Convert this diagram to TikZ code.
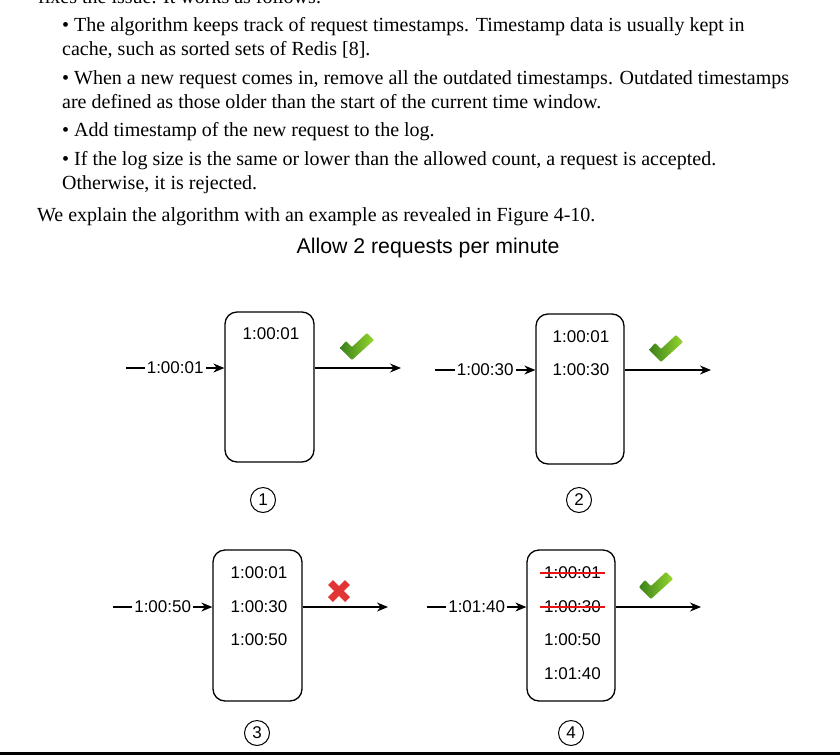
\documentclass[tikz,border=0pt]{standalone}
\usepackage{fontspec}
\setmainfont{Liberation Serif}
\newfontfamily\arialf{Liberation Sans}
\usetikzlibrary{arrows.meta}
\definecolor{xred}{RGB}{226,52,52}
\definecolor{ckdark}{RGB}{58,128,28}
\definecolor{cklight}{RGB}{150,215,45}
\definecolor{strikered}{RGB}{232,20,20}
\tikzset{
 body/.style={anchor=base west, inner sep=0pt, font=\fontsize{20}{24}\selectfont},
 logbox/.style={draw, line width=1.3pt, rounded corners=12pt, minimum width=89pt, minimum height=150pt, inner sep=0pt},
 stamp/.style={font=\arialf\fontsize{17}{20}\selectfont, inner sep=1pt},
 inlabel/.style={font=\arialf\fontsize{17}{20}\selectfont, fill=white, inner sep=2pt},
 flow/.style={line width=1.2pt, -{Stealth[length=11pt,width=9pt]}},
 stepnum/.style={draw, circle, line width=1pt, minimum size=25pt, inner sep=0pt, font=\arialf\fontsize{17}{17}\selectfont},
 strikeout/.style={draw=strikered, line width=1.6pt, shorten <=-3pt, shorten >=-3pt},
 okmark/.pic={\shade[left color=ckdark, right color=cklight, rounded corners=1pt] (-17,1) -- (-11,-6) -- (-5,0) -- (10,-14) -- (17,-7) -- (-5,13) -- cycle;},
 nomark/.pic={\draw[xred, line width=7pt] (-8.5,-8.5) -- (8.5,8.5) (-8.5,8.5) -- (8.5,-8.5);},
}
\begin{document}
\begin{tikzpicture}[x=1pt,y=-1pt]
\useasboundingbox (0,0) rectangle (840,755);
\clip (0,0) rectangle (840,755);
\fill[white] (0,0) rectangle (840,755);
% text
\node[body] (p0) at (38,3) {fixes the issue. It works as follows:};
\node[body] (p1) at (62,31) {• The algorithm keeps track of request timestamps. Timestamp data is usually kept in};
\node[body] (p2) at (62,55) {cache, such as sorted sets of Redis [8].};
\node[body] (p3) at (62,84) {• When a new request comes in, remove all the outdated timestamps. Outdated timestamps};
\node[body] (p4) at (62,108) {are defined as those older than the start of the current time window.};
\node[body] (p5) at (62,136) {• Add timestamp of the new request to the log.};
\node[body] (p6) at (62,165) {• If the log size is the same or lower than the allowed count, a request is accepted.};
\node[body] (p7) at (62,189) {Otherwise, it is rejected.};
\node[body] (p8) at (37,221) {We explain the algorithm with an example as revealed in Figure 4-10.};
\node[font=\arialf\fontsize{21.3}{25}\selectfont, inner sep=0pt] (title) at (428,248) {Allow 2 requests per minute};
% boxes
\node[logbox] (b1) at (269.5,387) {};
\node[logbox, minimum width=88pt] (b2) at (580,389) {};
\node[logbox, minimum height=151pt] (b3) at (257.5,625.5) {};
\node[logbox, minimum width=88pt, minimum height=151pt] (b4) at (571,625.5) {};
% stamps
\node[stamp] (t11) at (271,334) {1:00:01};
\node[stamp] (t21) at (581,337) {1:00:01};
\node[stamp] (t22) at (581,370) {1:00:30};
\node[stamp] (t31) at (259,573) {1:00:01};
\node[stamp] (t32) at (259,607) {1:00:30};
\node[stamp] (t33) at (259,640) {1:00:50};
\node[stamp] (t41) at (572.5,573) {1:00:01};
\node[stamp] (t42) at (572.5,607) {1:00:30};
\node[stamp] (t43) at (572.5,640) {1:00:50};
\node[stamp] (t44) at (572.5,674) {1:01:40};
\draw[strikeout] (t41.west) -- (t41.east);
\draw[strikeout] (t42.west) -- (t42.east);
% flows
\coordinate (s1) at (126,368); \coordinate (e1) at (401,368);
\coordinate (s2) at (435,370); \coordinate (e2) at (711,370);
\coordinate (s3) at (113,607); \coordinate (e3) at (388,607);
\coordinate (s4) at (427,607); \coordinate (e4) at (701,607);
\draw[flow] (s1) -- node[inlabel] (l1) {1:00:01} (s1 -| b1.west);
\draw[flow] (s2) -- node[inlabel] (l2) {1:00:30} (s2 -| b2.west);
\draw[flow] (s3) -- node[inlabel] (l3) {1:00:50} (s3 -| b3.west);
\draw[flow] (s4) -- node[inlabel] (l4) {1:01:40} (s4 -| b4.west);
\draw[flow] (b1.east |- e1) -- (e1);
\draw[flow] (b2.east |- e2) -- (e2);
\draw[flow] (b3.east |- e3) -- (e3);
\draw[flow] (b4.east |- e4) -- (e4);
% marks
\pic at (357,347) {okmark};
\pic at (666,349) {okmark};
\pic at (339,591) {nomark};
\pic at (656,586) {okmark};
% step numbers
\node[stepnum] (n1) at (263,500) {1};
\node[stepnum] (n2) at (579,500) {2};
\node[stepnum] (n3) at (257,733) {3};
\node[stepnum] (n4) at (571,733) {4};
% bottom bar
\fill[black] (0,752) rectangle (840,755);
\end{tikzpicture}
\end{document}
